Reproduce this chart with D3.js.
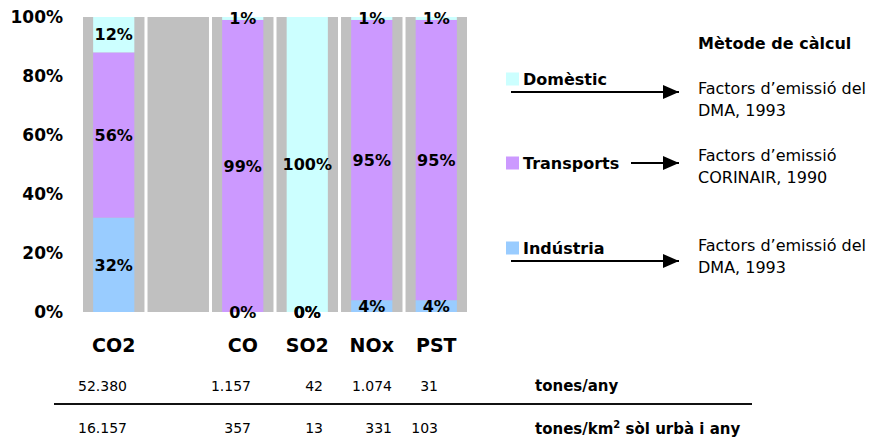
<!DOCTYPE html>
<html>
<head>
<meta charset="utf-8">
<title>Emissions by sector</title>
<style>
  body { margin: 0; background: #fff; }
  text { font-family: "DejaVu Sans", Verdana, sans-serif; fill: #000; }
</style>
</head>
<body>
<svg width="870" height="440"></svg>
<script src="https://cdnjs.cloudflare.com/ajax/libs/d3/7.8.5/d3.min.js"></script>
<script>
  // categories (the empty one is the blank gray column)
  var categories = ["CO2", "", "CO", "SO2", "NOx", "PST"];
  var sectors = ["Indústria", "Transports", "Domèstic"];

  // shares in % per sector, same order as categories
  var industria  = [32, null, 0, 0, 4, 4];
  var transports = [56, null, 99, 0, 95, 95];
  var domestic   = [12, null, 1, 100, 1, 1];

  var yTicks = [0, 20, 40, 60, 80, 100];

  // table under the chart
  var tableCats = ["CO2", "CO", "SO2", "NOx", "PST"];
  var tonesAny = ["52.380", "1.157", "42", "1.074", "31"];
  var tonesKm2 = ["16.157", "357", "13", "331", "103"];

  // legend / method text
  var methodText = [
    ["Factors d\u2019emissió del", "DMA, 1993"],
    ["Factors d\u2019emissió", "CORINAIR, 1990"],
    ["Factors d\u2019emissió del", "DMA, 1993"]
  ];

  var colors = { "Indústria": "#99ccff", "Transports": "#cc99ff", "Domèstic": "#ccffff" };

  var svg = d3.select("svg");

  var x = d3.scaleBand()
    .domain(categories)
    .range([83, 467])
    .paddingInner(0.047)
    .paddingOuter(0);

  var y = d3.scaleLinear()
    .domain([0, 100])
    .range([312, 17]);

  // gray column backgrounds
  svg.append("g")
    .selectAll("rect")
    .data(categories)
    .enter().append("rect")
    .attr("x", function (d) { return x(d); })
    .attr("y", y(100))
    .attr("width", x.bandwidth())
    .attr("height", y(0) - y(100))
    .attr("fill", "#c0c0c0");

  // stacked bars
  var rows = categories.map(function (c, i) {
    return { cat: c, "Indústria": industria[i], "Transports": transports[i], "Domèstic": domestic[i] };
  }).filter(function (d) { return d["Indústria"] != null; });

  var stack = d3.stack().keys(sectors)(rows);
  var barW = x.bandwidth() * 0.67;
  var barOff = (x.bandwidth() - barW) / 2;

  var layers = svg.append("g")
    .selectAll("g")
    .data(stack)
    .enter().append("g")
    .attr("fill", function (d) { return colors[d.key]; });

  layers.selectAll("rect")
    .data(function (d) { return d; })
    .enter().append("rect")
    .attr("x", function (d) { return x(d.data.cat) + barOff; })
    .attr("y", function (d) { return y(d[1]); })
    .attr("width", barW)
    .attr("height", function (d) { return y(d[0]) - y(d[1]); });

  // value labels in the middle of each segment
  var labels = svg.append("g")
    .attr("font-size", 16)
    .attr("font-weight", "bold")
    .attr("text-anchor", "middle");

  stack.forEach(function (layer) {
    layer.forEach(function (d) {
      labels.append("text")
        .attr("x", x(d.data.cat) + x.bandwidth() / 2)
        .attr("y", y((d[0] + d[1]) / 2))
        .attr("dy", "0.36em")
        .text((d[1] - d[0]) + "%");
    });
  });

  // y axis labels
  svg.append("g")
    .attr("font-size", 17)
    .attr("font-weight", "bold")
    .attr("text-anchor", "end")
    .selectAll("text")
    .data(yTicks)
    .enter().append("text")
    .attr("x", 63)
    .attr("y", function (d) { return y(d); })
    .attr("dy", "0.36em")
    .text(function (d) { return d + "%"; });

  // category labels
  svg.append("g")
    .attr("font-size", 19)
    .attr("font-weight", "bold")
    .attr("text-anchor", "middle")
    .selectAll("text")
    .data(categories.filter(function (c) { return c !== ""; }))
    .enter().append("text")
    .attr("x", function (d) { return x(d) + x.bandwidth() / 2; })
    .attr("y", 345)
    .attr("dy", "0.36em")
    .text(function (d) { return d; });

  // legend with arrows
  svg.append("defs").append("marker")
    .attr("id", "arrow")
    .attr("viewBox", "0 0 16 14")
    .attr("refX", 16)
    .attr("refY", 7)
    .attr("markerWidth", 16)
    .attr("markerHeight", 14)
    .attr("markerUnits", "userSpaceOnUse")
    .attr("orient", "auto")
    .append("path")
    .attr("d", "M0,0L16,7L0,14Z")
    .attr("fill", "#000");

  var legendLayout = [
    { key: "Domèstic",   y: 79,  ax1: 511, ay: 92,  ty: 88 },
    { key: "Transports", y: 163, ax1: 631, ay: 163, ty: 155 },
    { key: "Indústria",  y: 248, ax1: 511, ay: 261, ty: 245 }
  ];

  var leg = svg.append("g");
  legendLayout.forEach(function (l, i) {
    leg.append("rect")
      .attr("x", 506).attr("y", l.y - 6.5)
      .attr("width", 13).attr("height", 13)
      .attr("fill", colors[l.key]);
    leg.append("text")
      .attr("x", 523).attr("y", l.y)
      .attr("dy", "0.36em")
      .attr("font-size", 16)
      .attr("font-weight", "bold")
      .text(l.key);
    leg.append("line")
      .attr("x1", l.ax1).attr("x2", 679)
      .attr("y1", l.ay).attr("y2", l.ay)
      .attr("stroke", "#000")
      .attr("stroke-width", 2)
      .attr("marker-end", "url(#arrow)");
    methodText[i].forEach(function (t, j) {
      leg.append("text")
        .attr("x", 698).attr("y", l.ty + j * 22.5)
        .attr("dy", "0.36em")
        .attr("font-size", 16)
        .text(t);
    });
  });

  svg.append("text")
    .attr("x", 698).attr("y", 43)
    .attr("dy", "0.36em")
    .attr("font-size", 16)
    .attr("font-weight", "bold")
    .text("Mètode de càlcul");

  // table under the chart
  var tableX = [127, 251, 323, 392, 438];
  var table = svg.append("g").attr("font-size", 14).attr("text-anchor", "end");
  tableCats.forEach(function (c, i) {
    table.append("text").attr("x", tableX[i]).attr("y", 386).attr("dy", "0.36em").text(tonesAny[i]);
    table.append("text").attr("x", tableX[i]).attr("y", 428).attr("dy", "0.36em").text(tonesKm2[i]);
  });

  svg.append("text")
    .attr("x", 535).attr("y", 386)
    .attr("dy", "0.36em")
    .attr("font-size", 15)
    .attr("font-weight", "bold")
    .text("tones/any");

  var unit2 = svg.append("text")
    .attr("x", 535).attr("y", 433.5)
    .attr("font-size", 15)
    .attr("font-weight", "bold");
  unit2.append("tspan").text("tones/km");
  unit2.append("tspan").attr("font-size", 10).attr("dy", -6).text("2");
  unit2.append("tspan").attr("dy", 6).text(" sòl urbà i any");

  svg.append("line")
    .attr("x1", 54).attr("x2", 752)
    .attr("y1", 404).attr("y2", 404)
    .attr("stroke", "#111")
    .attr("stroke-width", 2);
</script>
</body>
</html>
